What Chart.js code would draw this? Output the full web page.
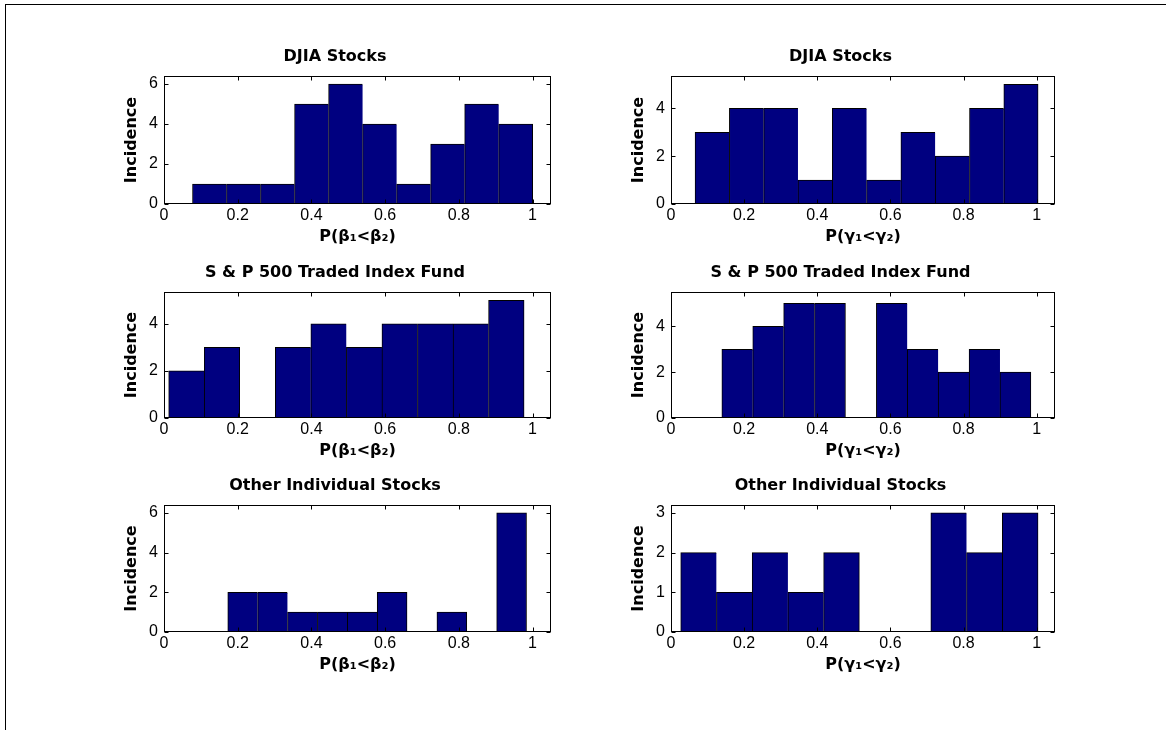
<!DOCTYPE html>
<html>
<head>
<meta charset="utf-8">
<script src="https://cdn.jsdelivr.net/npm/chart.js@4.4.1/dist/chart.umd.min.js"></script>
<style>
  body { margin: 0; background: #fff; width: 1166px; height: 730px; overflow: hidden; position: relative; }
  #frame { position: absolute; left: 5px; top: 4px; width: 1300px; height: 900px; border-left: 1px solid #000; border-top: 1px solid #000; }
  canvas { position: absolute; }
</style>
</head>
<body>
<div id="frame"></div>
<script>
// histogram bin centres and counts per bin
var djiaBetaBins = [0.1235, 0.2158, 0.3081, 0.4004, 0.4927, 0.5850, 0.6773, 0.7696, 0.8619, 0.9542]
var djiaBetaCounts = [1, 1, 1, 5, 6, 4, 1, 3, 5, 4]

var djiaGammaBins = [0.1127, 0.2065, 0.3003, 0.3941, 0.4879, 0.5817, 0.6755, 0.7693, 0.8631, 0.9569]
var djiaGammaCounts = [3, 4, 4, 1, 4, 1, 3, 2, 4, 5]

var spBetaBins = [0.0609, 0.1573, 0.2538, 0.3502, 0.4466, 0.5431, 0.6395, 0.7359, 0.8324, 0.9288]
var spBetaCounts = [2, 3, 0, 3, 4, 3, 4, 4, 4, 5]

var spGammaBins = [0.1813, 0.2658, 0.3503, 0.4348, 0.5193, 0.6038, 0.6883, 0.7728, 0.8573, 0.9418]
var spGammaCounts = [3, 4, 5, 5, 0, 5, 3, 2, 3, 2]

var otherBetaBins = [0.2135, 0.2946, 0.3757, 0.4567, 0.5378, 0.6189, 0.6999, 0.7810, 0.8621, 0.9431]
var otherBetaCounts = [2, 2, 1, 1, 1, 2, 0, 1, 0, 6]

var otherGammaBins = [0.0754, 0.1731, 0.2708, 0.3685, 0.4662, 0.5639, 0.6616, 0.7593, 0.8570, 0.9548]
var otherGammaCounts = [2, 1, 2, 1, 2, 0, 0, 3, 2, 3]

var xTicks = [0, 0.2, 0.4, 0.6, 0.8, 1]
var xTickLabels = ['0', '0.2', '0.4', '0.6', '0.8', '1']

var betaLabel = 'P(\u03b2\u2081<\u03b2\u2082)'
var gammaLabel = 'P(\u03b3\u2081<\u03b3\u2082)'

var panels = [
    {title: 'DJIA Stocks', xlabel: betaLabel, bins: djiaBetaBins, counts: djiaBetaCounts, yMax: 6.4, yStep: 2, left: 164, top: 76, w: 387, h: 128},
    {title: 'DJIA Stocks', xlabel: gammaLabel, bins: djiaGammaBins, counts: djiaGammaCounts, yMax: 5.35, yStep: 2, left: 671, top: 76, w: 384, h: 128},
    {title: 'S & P 500 Traded Index Fund', xlabel: betaLabel, bins: spBetaBins, counts: spBetaCounts, yMax: 5.35, yStep: 2, left: 164, top: 292, w: 387, h: 126},
    {title: 'S & P 500 Traded Index Fund', xlabel: gammaLabel, bins: spGammaBins, counts: spGammaCounts, yMax: 5.5, yStep: 2, left: 671, top: 292, w: 384, h: 126},
    {title: 'Other Individual Stocks', xlabel: betaLabel, bins: otherBetaBins, counts: otherBetaCounts, yMax: 6.4, yStep: 2, left: 164, top: 505, w: 387, h: 127},
    {title: 'Other Individual Stocks', xlabel: gammaLabel, bins: otherGammaBins, counts: otherGammaCounts, yMax: 3.2, yStep: 1, left: 671, top: 505, w: 384, h: 127}
]

Chart.defaults.color = '#000'

// matlab style box with inward ticks on all four sides
var boxTicks = {
    id: 'boxTicks',
    afterDatasetsDraw: function (chart) {
        var ctx = chart.ctx
        var a = chart.chartArea
        var x = chart.scales.x
        var y = chart.scales.y
        var l = Math.round(a.left) + 0.5, r = Math.round(a.right) - 0.5
        var t = Math.round(a.top) + 0.5, b = Math.round(a.bottom) - 0.5
        ctx.save()
        ctx.strokeStyle = '#000'
        ctx.lineWidth = 1
        ctx.strokeRect(l, t, r - l, b - t)
        ctx.beginPath()
        x.ticks.forEach(function (tk) {
            var px = Math.round(x.getPixelForValue(tk.value)) + 0.5
            ctx.moveTo(px, b); ctx.lineTo(px, b - 4)
            ctx.moveTo(px, t); ctx.lineTo(px, t + 4)
        })
        y.ticks.forEach(function (tk) {
            var py = Math.round(y.getPixelForValue(tk.value)) + 0.5
            ctx.moveTo(l, py); ctx.lineTo(l + 4, py)
            ctx.moveTo(r, py); ctx.lineTo(r - 4, py)
        })
        ctx.stroke()
        ctx.restore()
    }
}

var tickFont = {family: 'Liberation Sans', size: 16}
var boldFont = {family: 'DejaVu Sans', weight: 'bold', size: 16, lineHeight: 1.25}

panels.forEach(function (p) {
    var padL = 45, padT = 30, padB = 45, padR = 10
    var canvas = document.createElement('canvas')
    canvas.width = p.w + padL + padR
    canvas.height = p.h + padT + padB
    canvas.style.left = (p.left - padL) + 'px'
    canvas.style.top = (p.top - padT) + 'px'
    document.body.appendChild(canvas)

    var points = p.bins.map(function (b, i) { return {x: b, y: p.counts[i]} })

    new Chart(canvas.getContext('2d'), {
        type: 'bar',
        data: {
            datasets: [{
                data: points,
                backgroundColor: '#000080',
                borderColor: '#000',
                borderWidth: function (c) {
                    var i = c.dataIndex
                    var last = i === p.counts.length - 1 || p.counts[i + 1] === 0
                    return {top: 1, left: 1, bottom: 0, right: last ? 1 : 0}
                },
                borderSkipped: false,
                barPercentage: 1,
                categoryPercentage: 1
            }]
        },
        options: {
            responsive: false,
            animation: false,
            devicePixelRatio: 1,
            layout: {padding: {right: padR}},
            plugins: {
                legend: {display: false},
                tooltip: {enabled: false},
                title: {
                    display: true,
                    text: p.title,
                    color: '#000',
                    font: boldFont,
                    padding: {top: 1, bottom: 9}
                }
            },
            scales: {
                x: {
                    type: 'linear',
                    min: 0,
                    max: 1.05,
                    offset: false,
                    grid: {display: false, drawTicks: false, offset: false},
                    border: {display: false},
                    afterBuildTicks: function (s) {
                        s.ticks = xTicks.map(function (v) { return {value: v} })
                    },
                    ticks: {
                        padding: 2, font: tickFont, maxRotation: 0, autoSkip: false, color: '#000',
                        callback: function (v, i) { return xTickLabels[i] }
                    },
                    title: {display: true, text: p.xlabel, font: boldFont, color: '#000', padding: {top: 0, bottom: 2}},
                    afterFit: function (s) { s.height = padB }
                },
                y: {
                    min: 0,
                    max: p.yMax,
                    grid: {display: false, drawTicks: false},
                    border: {display: false},
                    ticks: {stepSize: p.yStep, includeBounds: false, padding: 6, font: tickFont, color: '#000'},
                    title: {display: true, text: 'Incidence', font: boldFont, color: '#000', padding: {top: 3, bottom: 0}},
                    afterFit: function (s) { s.width = padL }
                }
            }
        },
        plugins: [boxTicks]
    })
})
</script>
</body>
</html>
